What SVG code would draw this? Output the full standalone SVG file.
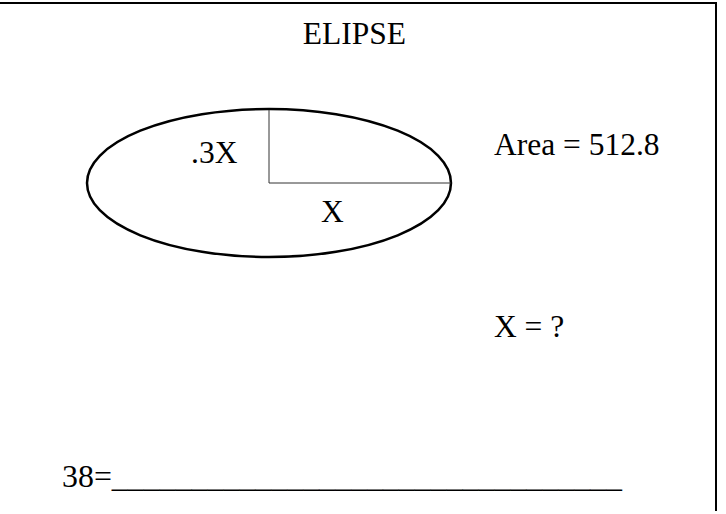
<svg xmlns="http://www.w3.org/2000/svg" width="726" height="514" viewBox="0 0 726 514">
<style>
.t{font-family:"Liberation Serif","Times New Roman",serif;font-size:31.5px;fill:#000}
.frame{stroke:#000;stroke-width:2;fill:none}
</style>
<rect width="726" height="514" fill="#fff"/>
<g id="frame">
<polyline class="frame" points="0,3 716,3 716,511"/>
</g>
<g id="title"><text class="t" x="354.5" y="44" text-anchor="middle">ELIPSE</text></g>
<g id="ellipse">
<ellipse cx="269" cy="183" rx="182" ry="74" fill="none" stroke="#000" stroke-width="2.5"/>
</g>
<g id="connectors">
<line x1="269" y1="110" x2="269" y2="183" stroke="#333" stroke-width="1"/>
<line x1="269" y1="183" x2="451" y2="183" stroke="#333" stroke-width="1"/>
</g>
<g id="label-minor"><text class="t" x="191" y="163">.3X</text></g>
<g id="label-major"><text class="t" x="321" y="222">X</text></g>
<g id="area"><text class="t" x="494" y="155">Area = 512.8</text></g>
<g id="question"><text class="t" x="494" y="337">X = ?</text></g>
<g id="answer"><text class="t" x="62" y="487" textLength="560" lengthAdjust="spacingAndGlyphs">38=________________________________</text></g>
</svg>
